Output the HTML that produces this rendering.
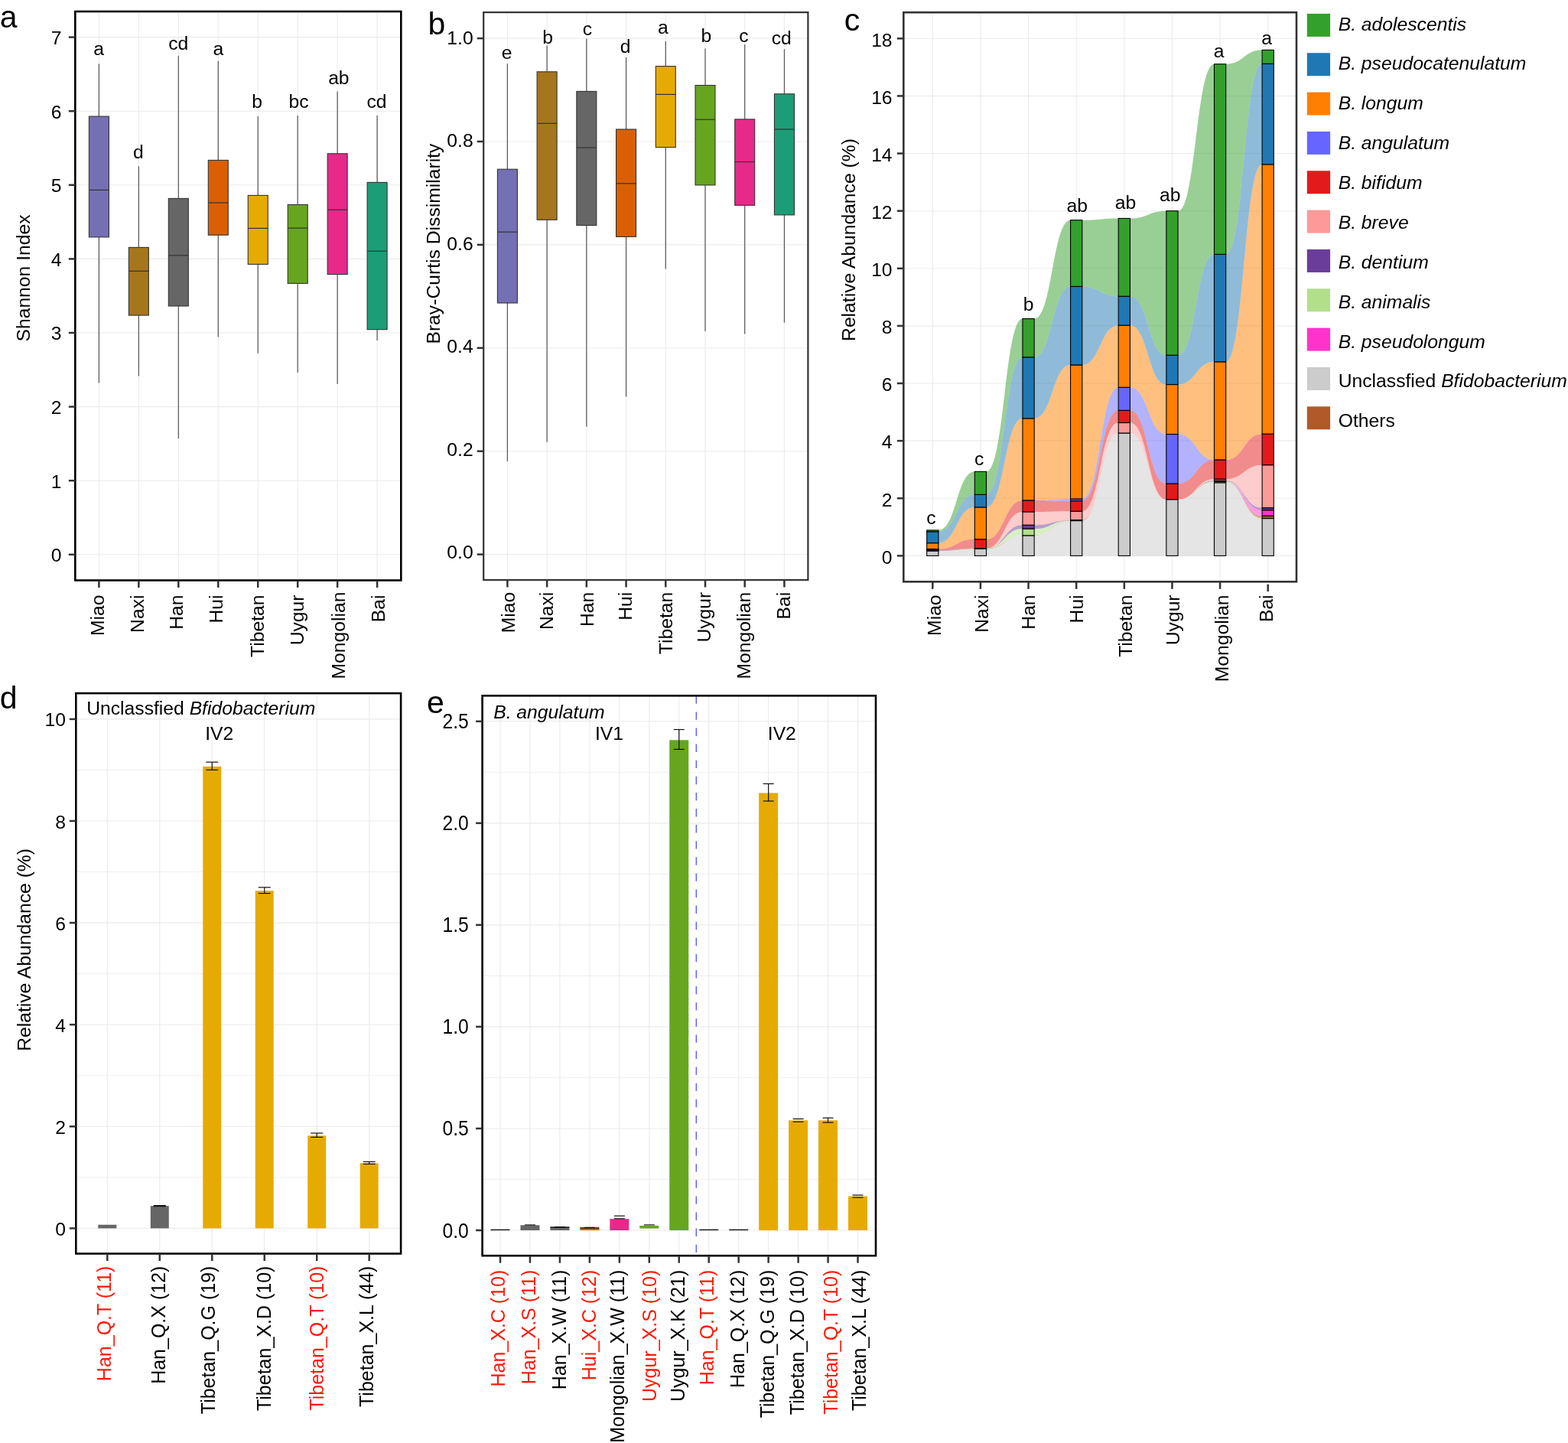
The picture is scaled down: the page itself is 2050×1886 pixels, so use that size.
<!DOCTYPE html>
<html><head><meta charset="utf-8"><title>Figure</title>
<style>html,body{margin:0;padding:0;background:#fff;}svg{display:block;}</style>
</head><body>
<svg width="2050" height="1886" viewBox="0 0 2050 1886" font-family="&quot;Liberation Sans&quot;, sans-serif">
<rect x="0" y="0" width="2050" height="1886" fill="#fff"/>
<line x1="98.3" y1="724.8" x2="524.3" y2="724.8" stroke="#EBEBEB" stroke-width="1.1"/>
<line x1="98.3" y1="628.2" x2="524.3" y2="628.2" stroke="#EBEBEB" stroke-width="1.1"/>
<line x1="98.3" y1="531.6" x2="524.3" y2="531.6" stroke="#EBEBEB" stroke-width="1.1"/>
<line x1="98.3" y1="435" x2="524.3" y2="435" stroke="#EBEBEB" stroke-width="1.1"/>
<line x1="98.3" y1="338.4" x2="524.3" y2="338.4" stroke="#EBEBEB" stroke-width="1.1"/>
<line x1="98.3" y1="241.8" x2="524.3" y2="241.8" stroke="#EBEBEB" stroke-width="1.1"/>
<line x1="98.3" y1="145.2" x2="524.3" y2="145.2" stroke="#EBEBEB" stroke-width="1.1"/>
<line x1="98.3" y1="48.6" x2="524.3" y2="48.6" stroke="#EBEBEB" stroke-width="1.1"/>
<line x1="129.4" y1="15" x2="129.4" y2="758.5" stroke="#EBEBEB" stroke-width="1.1"/>
<line x1="181.36" y1="15" x2="181.36" y2="758.5" stroke="#EBEBEB" stroke-width="1.1"/>
<line x1="233.32" y1="15" x2="233.32" y2="758.5" stroke="#EBEBEB" stroke-width="1.1"/>
<line x1="285.28" y1="15" x2="285.28" y2="758.5" stroke="#EBEBEB" stroke-width="1.1"/>
<line x1="337.24" y1="15" x2="337.24" y2="758.5" stroke="#EBEBEB" stroke-width="1.1"/>
<line x1="389.2" y1="15" x2="389.2" y2="758.5" stroke="#EBEBEB" stroke-width="1.1"/>
<line x1="441.16" y1="15" x2="441.16" y2="758.5" stroke="#EBEBEB" stroke-width="1.1"/>
<line x1="493.12" y1="15" x2="493.12" y2="758.5" stroke="#EBEBEB" stroke-width="1.1"/>
<line x1="129.4" y1="83.6" x2="129.4" y2="152.1" stroke="#555555" stroke-width="1.2"/>
<line x1="129.4" y1="309.9" x2="129.4" y2="500.6" stroke="#555555" stroke-width="1.2"/>
<rect x="116.4" y="152.1" width="26" height="157.8" fill="#7570B3" stroke="#333333" stroke-width="1.1"/>
<line x1="116.4" y1="248.4" x2="142.4" y2="248.4" stroke="#333333" stroke-width="1.2"/>
<text x="129.1" y="72" text-anchor="middle" font-size="24.7" fill="#000">a</text>
<line x1="181.36" y1="217.2" x2="181.36" y2="323.4" stroke="#555555" stroke-width="1.2"/>
<line x1="181.36" y1="412.1" x2="181.36" y2="491.5" stroke="#555555" stroke-width="1.2"/>
<rect x="168.36" y="323.4" width="26" height="88.7" fill="#A6761D" stroke="#333333" stroke-width="1.1"/>
<line x1="168.36" y1="354.3" x2="194.36" y2="354.3" stroke="#333333" stroke-width="1.2"/>
<text x="180.86" y="207" text-anchor="middle" font-size="24.7" fill="#000">d</text>
<line x1="233.32" y1="72.8" x2="233.32" y2="259.4" stroke="#555555" stroke-width="1.2"/>
<line x1="233.32" y1="400" x2="233.32" y2="573.2" stroke="#555555" stroke-width="1.2"/>
<rect x="220.32" y="259.4" width="26" height="140.6" fill="#666666" stroke="#333333" stroke-width="1.1"/>
<line x1="220.32" y1="333.8" x2="246.32" y2="333.8" stroke="#333333" stroke-width="1.2"/>
<text x="233.32" y="64.5" text-anchor="middle" font-size="24.7" fill="#000">cd</text>
<line x1="285.28" y1="79.8" x2="285.28" y2="209.4" stroke="#555555" stroke-width="1.2"/>
<line x1="285.28" y1="307.2" x2="285.28" y2="440.6" stroke="#555555" stroke-width="1.2"/>
<rect x="272.28" y="209.4" width="26" height="97.8" fill="#D95F02" stroke="#333333" stroke-width="1.1"/>
<line x1="272.28" y1="265" x2="298.28" y2="265" stroke="#333333" stroke-width="1.2"/>
<text x="285.28" y="72" text-anchor="middle" font-size="24.7" fill="#000">a</text>
<line x1="337.24" y1="151.9" x2="337.24" y2="255.4" stroke="#555555" stroke-width="1.2"/>
<line x1="337.24" y1="345.4" x2="337.24" y2="461.7" stroke="#555555" stroke-width="1.2"/>
<rect x="324.24" y="255.4" width="26" height="90" fill="#E6AB02" stroke="#333333" stroke-width="1.1"/>
<line x1="324.24" y1="298.4" x2="350.24" y2="298.4" stroke="#333333" stroke-width="1.2"/>
<text x="336.24" y="141" text-anchor="middle" font-size="24.7" fill="#000">b</text>
<line x1="389.2" y1="151" x2="389.2" y2="267.5" stroke="#555555" stroke-width="1.2"/>
<line x1="389.2" y1="370.4" x2="389.2" y2="487.1" stroke="#555555" stroke-width="1.2"/>
<rect x="376.2" y="267.5" width="26" height="102.9" fill="#66A61E" stroke="#333333" stroke-width="1.1"/>
<line x1="376.2" y1="298.1" x2="402.2" y2="298.1" stroke="#333333" stroke-width="1.2"/>
<text x="390.5" y="141" text-anchor="middle" font-size="24.7" fill="#000">bc</text>
<line x1="441.16" y1="119.6" x2="441.16" y2="200.8" stroke="#555555" stroke-width="1.2"/>
<line x1="441.16" y1="358.6" x2="441.16" y2="502" stroke="#555555" stroke-width="1.2"/>
<rect x="428.16" y="200.8" width="26" height="157.8" fill="#E7298A" stroke="#333333" stroke-width="1.1"/>
<line x1="428.16" y1="274.2" x2="454.16" y2="274.2" stroke="#333333" stroke-width="1.2"/>
<text x="442.86" y="109.7" text-anchor="middle" font-size="24.7" fill="#000">ab</text>
<line x1="493.12" y1="151" x2="493.12" y2="238.4" stroke="#555555" stroke-width="1.2"/>
<line x1="493.12" y1="430.7" x2="493.12" y2="444.9" stroke="#555555" stroke-width="1.2"/>
<rect x="480.12" y="238.4" width="26" height="192.3" fill="#1B9E77" stroke="#333333" stroke-width="1.1"/>
<line x1="480.12" y1="328.2" x2="506.12" y2="328.2" stroke="#333333" stroke-width="1.2"/>
<text x="492.52" y="141" text-anchor="middle" font-size="24.7" fill="#000">cd</text>
<rect x="98.3" y="15" width="426" height="743.5" fill="none" stroke="#000" stroke-width="2.6"/>
<line x1="89.8" y1="724.8" x2="98.3" y2="724.8" stroke="#333333" stroke-width="2.5"/>
<text x="80.5" y="734.1" text-anchor="end" font-size="24.7" fill="#000">0</text>
<line x1="89.8" y1="628.2" x2="98.3" y2="628.2" stroke="#333333" stroke-width="2.5"/>
<text x="80.5" y="637.5" text-anchor="end" font-size="24.7" fill="#000">1</text>
<line x1="89.8" y1="531.6" x2="98.3" y2="531.6" stroke="#333333" stroke-width="2.5"/>
<text x="80.5" y="540.9" text-anchor="end" font-size="24.7" fill="#000">2</text>
<line x1="89.8" y1="435" x2="98.3" y2="435" stroke="#333333" stroke-width="2.5"/>
<text x="80.5" y="444.3" text-anchor="end" font-size="24.7" fill="#000">3</text>
<line x1="89.8" y1="338.4" x2="98.3" y2="338.4" stroke="#333333" stroke-width="2.5"/>
<text x="80.5" y="347.7" text-anchor="end" font-size="24.7" fill="#000">4</text>
<line x1="89.8" y1="241.8" x2="98.3" y2="241.8" stroke="#333333" stroke-width="2.5"/>
<text x="80.5" y="251.1" text-anchor="end" font-size="24.7" fill="#000">5</text>
<line x1="89.8" y1="145.2" x2="98.3" y2="145.2" stroke="#333333" stroke-width="2.5"/>
<text x="80.5" y="154.5" text-anchor="end" font-size="24.7" fill="#000">6</text>
<line x1="89.8" y1="48.6" x2="98.3" y2="48.6" stroke="#333333" stroke-width="2.5"/>
<text x="80.5" y="57.9" text-anchor="end" font-size="24.7" fill="#000">7</text>
<line x1="129.4" y1="758.5" x2="129.4" y2="768" stroke="#333333" stroke-width="2.5"/>
<text transform="translate(135.9,777.5) rotate(-90)" text-anchor="end" font-size="24.7" fill="#000">Miao</text>
<line x1="181.36" y1="758.5" x2="181.36" y2="768" stroke="#333333" stroke-width="2.5"/>
<text transform="translate(187.66,777.5) rotate(-90)" text-anchor="end" font-size="24.7" fill="#000">Naxi</text>
<line x1="233.32" y1="758.5" x2="233.32" y2="768" stroke="#333333" stroke-width="2.5"/>
<text transform="translate(238.92,777.5) rotate(-90)" text-anchor="end" font-size="24.7" fill="#000">Han</text>
<line x1="285.28" y1="758.5" x2="285.28" y2="768" stroke="#333333" stroke-width="2.5"/>
<text transform="translate(290.88,777.5) rotate(-90)" text-anchor="end" font-size="24.7" fill="#000">Hui</text>
<line x1="337.24" y1="758.5" x2="337.24" y2="768" stroke="#333333" stroke-width="2.5"/>
<text transform="translate(344.84,777.5) rotate(-90)" text-anchor="end" font-size="24.7" fill="#000">Tibetan</text>
<line x1="389.2" y1="758.5" x2="389.2" y2="768" stroke="#333333" stroke-width="2.5"/>
<text transform="translate(396.9,777.5) rotate(-90)" text-anchor="end" font-size="24.7" fill="#000">Uygur</text>
<line x1="441.16" y1="758.5" x2="441.16" y2="768" stroke="#333333" stroke-width="2.5"/>
<text transform="translate(450.76,773.6) rotate(-90)" text-anchor="end" font-size="24.7" fill="#000">Mongolian</text>
<line x1="493.12" y1="758.5" x2="493.12" y2="768" stroke="#333333" stroke-width="2.5"/>
<text transform="translate(503.32,777.5) rotate(-90)" text-anchor="end" font-size="24.7" fill="#000">Bai</text>
<text x="-0.3" y="36.2" text-anchor="start" font-size="41" fill="#000">a</text>
<text transform="translate(39,363.5) rotate(-90)" text-anchor="middle" font-size="24.7" fill="#000">Shannon Index</text>
<line x1="632.2" y1="724.6" x2="1056.4" y2="724.6" stroke="#EBEBEB" stroke-width="1.1"/>
<line x1="632.2" y1="589.7" x2="1056.4" y2="589.7" stroke="#EBEBEB" stroke-width="1.1"/>
<line x1="632.2" y1="454.8" x2="1056.4" y2="454.8" stroke="#EBEBEB" stroke-width="1.1"/>
<line x1="632.2" y1="319.9" x2="1056.4" y2="319.9" stroke="#EBEBEB" stroke-width="1.1"/>
<line x1="632.2" y1="185" x2="1056.4" y2="185" stroke="#EBEBEB" stroke-width="1.1"/>
<line x1="632.2" y1="50.1" x2="1056.4" y2="50.1" stroke="#EBEBEB" stroke-width="1.1"/>
<line x1="663.4" y1="16.1" x2="663.4" y2="758" stroke="#EBEBEB" stroke-width="1.1"/>
<line x1="715.12" y1="16.1" x2="715.12" y2="758" stroke="#EBEBEB" stroke-width="1.1"/>
<line x1="766.84" y1="16.1" x2="766.84" y2="758" stroke="#EBEBEB" stroke-width="1.1"/>
<line x1="818.56" y1="16.1" x2="818.56" y2="758" stroke="#EBEBEB" stroke-width="1.1"/>
<line x1="870.28" y1="16.1" x2="870.28" y2="758" stroke="#EBEBEB" stroke-width="1.1"/>
<line x1="922" y1="16.1" x2="922" y2="758" stroke="#EBEBEB" stroke-width="1.1"/>
<line x1="973.72" y1="16.1" x2="973.72" y2="758" stroke="#EBEBEB" stroke-width="1.1"/>
<line x1="1025.44" y1="16.1" x2="1025.44" y2="758" stroke="#EBEBEB" stroke-width="1.1"/>
<line x1="663.4" y1="83.3" x2="663.4" y2="221.2" stroke="#555555" stroke-width="1.2"/>
<line x1="663.4" y1="396" x2="663.4" y2="602.9" stroke="#555555" stroke-width="1.2"/>
<rect x="650.4" y="221.2" width="26" height="174.8" fill="#7570B3" stroke="#333333" stroke-width="1.1"/>
<line x1="650.4" y1="303.2" x2="676.4" y2="303.2" stroke="#333333" stroke-width="1.2"/>
<text x="662.7" y="76.6" text-anchor="middle" font-size="24.7" fill="#000">e</text>
<line x1="715.12" y1="59.7" x2="715.12" y2="93.8" stroke="#555555" stroke-width="1.2"/>
<line x1="715.12" y1="287.3" x2="715.12" y2="577.8" stroke="#555555" stroke-width="1.2"/>
<rect x="702.12" y="93.8" width="26" height="193.5" fill="#A6761D" stroke="#333333" stroke-width="1.1"/>
<line x1="702.12" y1="161.3" x2="728.12" y2="161.3" stroke="#333333" stroke-width="1.2"/>
<text x="716.12" y="56.5" text-anchor="middle" font-size="24.7" fill="#000">b</text>
<line x1="766.84" y1="50.5" x2="766.84" y2="119.4" stroke="#555555" stroke-width="1.2"/>
<line x1="766.84" y1="294.6" x2="766.84" y2="557.5" stroke="#555555" stroke-width="1.2"/>
<rect x="753.84" y="119.4" width="26" height="175.2" fill="#666666" stroke="#333333" stroke-width="1.1"/>
<line x1="753.84" y1="193" x2="779.84" y2="193" stroke="#333333" stroke-width="1.2"/>
<text x="767.84" y="46.2" text-anchor="middle" font-size="24.7" fill="#000">c</text>
<line x1="818.56" y1="75" x2="818.56" y2="169" stroke="#555555" stroke-width="1.2"/>
<line x1="818.56" y1="309.4" x2="818.56" y2="518.5" stroke="#555555" stroke-width="1.2"/>
<rect x="805.56" y="169" width="26" height="140.4" fill="#D95F02" stroke="#333333" stroke-width="1.1"/>
<line x1="805.56" y1="239.8" x2="831.56" y2="239.8" stroke="#333333" stroke-width="1.2"/>
<text x="817.56" y="69.4" text-anchor="middle" font-size="24.7" fill="#000">d</text>
<line x1="870.28" y1="54" x2="870.28" y2="86.6" stroke="#555555" stroke-width="1.2"/>
<line x1="870.28" y1="192.5" x2="870.28" y2="351.6" stroke="#555555" stroke-width="1.2"/>
<rect x="857.28" y="86.6" width="26" height="105.9" fill="#E6AB02" stroke="#333333" stroke-width="1.1"/>
<line x1="857.28" y1="123.4" x2="883.28" y2="123.4" stroke="#333333" stroke-width="1.2"/>
<text x="866.88" y="43.5" text-anchor="middle" font-size="24.7" fill="#000">a</text>
<line x1="922" y1="63.4" x2="922" y2="111.5" stroke="#555555" stroke-width="1.2"/>
<line x1="922" y1="241.9" x2="922" y2="433" stroke="#555555" stroke-width="1.2"/>
<rect x="909" y="111.5" width="26" height="130.4" fill="#66A61E" stroke="#333333" stroke-width="1.1"/>
<line x1="909" y1="156.2" x2="935" y2="156.2" stroke="#333333" stroke-width="1.2"/>
<text x="923.3" y="54.6" text-anchor="middle" font-size="24.7" fill="#000">b</text>
<line x1="973.72" y1="58" x2="973.72" y2="155.9" stroke="#555555" stroke-width="1.2"/>
<line x1="973.72" y1="268.3" x2="973.72" y2="436.5" stroke="#555555" stroke-width="1.2"/>
<rect x="960.72" y="155.9" width="26" height="112.4" fill="#E7298A" stroke="#333333" stroke-width="1.1"/>
<line x1="960.72" y1="211.5" x2="986.72" y2="211.5" stroke="#333333" stroke-width="1.2"/>
<text x="972.42" y="55.1" text-anchor="middle" font-size="24.7" fill="#000">c</text>
<line x1="1025.44" y1="64.2" x2="1025.44" y2="122.8" stroke="#555555" stroke-width="1.2"/>
<line x1="1025.44" y1="280.9" x2="1025.44" y2="421.6" stroke="#555555" stroke-width="1.2"/>
<rect x="1012.44" y="122.8" width="26" height="158.1" fill="#1B9E77" stroke="#333333" stroke-width="1.1"/>
<line x1="1012.44" y1="169" x2="1038.44" y2="169" stroke="#333333" stroke-width="1.2"/>
<text x="1021.74" y="57.5" text-anchor="middle" font-size="24.7" fill="#000">cd</text>
<rect x="632.2" y="16.1" width="424.2" height="741.9" fill="none" stroke="#333333" stroke-width="2.2"/>
<line x1="623.7" y1="724.6" x2="632.2" y2="724.6" stroke="#333333" stroke-width="2.5"/>
<text x="618.7" y="730.1" text-anchor="end" font-size="24.7" fill="#000">0.0</text>
<line x1="623.7" y1="589.7" x2="632.2" y2="589.7" stroke="#333333" stroke-width="2.5"/>
<text x="618.7" y="595.62" text-anchor="end" font-size="24.7" fill="#000">0.2</text>
<line x1="623.7" y1="454.8" x2="632.2" y2="454.8" stroke="#333333" stroke-width="2.5"/>
<text x="618.7" y="461.14" text-anchor="end" font-size="24.7" fill="#000">0.4</text>
<line x1="623.7" y1="319.9" x2="632.2" y2="319.9" stroke="#333333" stroke-width="2.5"/>
<text x="618.7" y="326.66" text-anchor="end" font-size="24.7" fill="#000">0.6</text>
<line x1="623.7" y1="185" x2="632.2" y2="185" stroke="#333333" stroke-width="2.5"/>
<text x="618.7" y="192.18" text-anchor="end" font-size="24.7" fill="#000">0.8</text>
<line x1="623.7" y1="50.1" x2="632.2" y2="50.1" stroke="#333333" stroke-width="2.5"/>
<text x="618.7" y="57.7" text-anchor="end" font-size="24.7" fill="#000">1.0</text>
<line x1="663.4" y1="758" x2="663.4" y2="767.5" stroke="#333333" stroke-width="2.5"/>
<text transform="translate(673.1,773.7) rotate(-90)" text-anchor="end" font-size="24.7" fill="#000">Miao</text>
<line x1="715.12" y1="758" x2="715.12" y2="767.5" stroke="#333333" stroke-width="2.5"/>
<text transform="translate(723.12,773.7) rotate(-90)" text-anchor="end" font-size="24.7" fill="#000">Naxi</text>
<line x1="766.84" y1="758" x2="766.84" y2="767.5" stroke="#333333" stroke-width="2.5"/>
<text transform="translate(776.24,773.7) rotate(-90)" text-anchor="end" font-size="24.7" fill="#000">Han</text>
<line x1="818.56" y1="758" x2="818.56" y2="767.5" stroke="#333333" stroke-width="2.5"/>
<text transform="translate(825.76,773.7) rotate(-90)" text-anchor="end" font-size="24.7" fill="#000">Hui</text>
<line x1="870.28" y1="758" x2="870.28" y2="767.5" stroke="#333333" stroke-width="2.5"/>
<text transform="translate(878.88,773.7) rotate(-90)" text-anchor="end" font-size="24.7" fill="#000">Tibetan</text>
<line x1="922" y1="758" x2="922" y2="767.5" stroke="#333333" stroke-width="2.5"/>
<text transform="translate(929.2,773.7) rotate(-90)" text-anchor="end" font-size="24.7" fill="#000">Uygur</text>
<line x1="973.72" y1="758" x2="973.72" y2="767.5" stroke="#333333" stroke-width="2.5"/>
<text transform="translate(980.52,773.7) rotate(-90)" text-anchor="end" font-size="24.7" fill="#000">Mongolian</text>
<line x1="1025.44" y1="758" x2="1025.44" y2="767.5" stroke="#333333" stroke-width="2.5"/>
<text transform="translate(1032.84,773.7) rotate(-90)" text-anchor="end" font-size="24.7" fill="#000">Bai</text>
<text x="559.5" y="44.8" text-anchor="start" font-size="41" fill="#000">b</text>
<text transform="translate(574.6,318.6) rotate(-90)" text-anchor="middle" font-size="24.7" fill="#000">Bray-Curtis Dissimilarity</text>
<line x1="1181.3" y1="726.4" x2="1695" y2="726.4" stroke="#EBEBEB" stroke-width="1.1"/>
<line x1="1181.3" y1="651.28" x2="1695" y2="651.28" stroke="#EBEBEB" stroke-width="1.1"/>
<line x1="1181.3" y1="576.16" x2="1695" y2="576.16" stroke="#EBEBEB" stroke-width="1.1"/>
<line x1="1181.3" y1="501.04" x2="1695" y2="501.04" stroke="#EBEBEB" stroke-width="1.1"/>
<line x1="1181.3" y1="425.92" x2="1695" y2="425.92" stroke="#EBEBEB" stroke-width="1.1"/>
<line x1="1181.3" y1="350.8" x2="1695" y2="350.8" stroke="#EBEBEB" stroke-width="1.1"/>
<line x1="1181.3" y1="275.68" x2="1695" y2="275.68" stroke="#EBEBEB" stroke-width="1.1"/>
<line x1="1181.3" y1="200.56" x2="1695" y2="200.56" stroke="#EBEBEB" stroke-width="1.1"/>
<line x1="1181.3" y1="125.44" x2="1695" y2="125.44" stroke="#EBEBEB" stroke-width="1.1"/>
<line x1="1181.3" y1="50.32" x2="1695" y2="50.32" stroke="#EBEBEB" stroke-width="1.1"/>
<line x1="1219.3" y1="16.2" x2="1219.3" y2="760.3" stroke="#EBEBEB" stroke-width="1.1"/>
<line x1="1281.93" y1="16.2" x2="1281.93" y2="760.3" stroke="#EBEBEB" stroke-width="1.1"/>
<line x1="1344.56" y1="16.2" x2="1344.56" y2="760.3" stroke="#EBEBEB" stroke-width="1.1"/>
<line x1="1407.19" y1="16.2" x2="1407.19" y2="760.3" stroke="#EBEBEB" stroke-width="1.1"/>
<line x1="1469.82" y1="16.2" x2="1469.82" y2="760.3" stroke="#EBEBEB" stroke-width="1.1"/>
<line x1="1532.45" y1="16.2" x2="1532.45" y2="760.3" stroke="#EBEBEB" stroke-width="1.1"/>
<line x1="1595.08" y1="16.2" x2="1595.08" y2="760.3" stroke="#EBEBEB" stroke-width="1.1"/>
<line x1="1657.71" y1="16.2" x2="1657.71" y2="760.3" stroke="#EBEBEB" stroke-width="1.1"/>
<g fill-opacity="0.5">
<path d="M1226.9 720.01 C1250.62 720.01 1250.62 717.39 1274.33 717.39 L1274.33 726.4 C1250.62 726.4 1250.62 726.4 1226.9 726.4 Z" fill="#CCCCCC"/>
<path d="M1289.53 717.39 C1313.24 717.39 1313.24 699.88 1336.96 699.88 L1336.96 726.4 C1313.24 726.4 1313.24 726.4 1289.53 726.4 Z" fill="#CCCCCC"/>
<path d="M1352.16 699.88 C1375.88 699.88 1375.88 680.58 1399.59 680.58 L1399.59 726.4 C1375.88 726.4 1375.88 726.4 1352.16 726.4 Z" fill="#CCCCCC"/>
<path d="M1414.79 680.58 C1438.51 680.58 1438.51 566.02 1462.22 566.02 L1462.22 726.4 C1438.51 726.4 1438.51 726.4 1414.79 726.4 Z" fill="#CCCCCC"/>
<path d="M1477.42 566.02 C1501.13 566.02 1501.13 652.78 1524.85 652.78 L1524.85 726.4 C1501.13 726.4 1501.13 726.4 1477.42 726.4 Z" fill="#CCCCCC"/>
<path d="M1540.05 652.78 C1563.76 652.78 1563.76 630.81 1587.48 630.81 L1587.48 726.4 C1563.76 726.4 1563.76 726.4 1540.05 726.4 Z" fill="#CCCCCC"/>
<path d="M1602.68 630.81 C1626.39 630.81 1626.39 677.57 1650.11 677.57 L1650.11 726.4 C1626.39 726.4 1626.39 726.4 1602.68 726.4 Z" fill="#CCCCCC"/>
<path d="M1226.9 720.01 C1250.62 720.01 1250.62 716.63 1274.33 716.63 L1274.33 717.39 C1250.62 717.39 1250.62 720.01 1226.9 720.01 Z" fill="#B15928"/>
<path d="M1289.53 716.63 C1313.24 716.63 1313.24 699.88 1336.96 699.88 L1336.96 699.88 C1313.24 699.88 1313.24 717.39 1289.53 717.39 Z" fill="#B15928"/>
<path d="M1352.16 699.88 C1375.88 699.88 1375.88 679.64 1399.59 679.64 L1399.59 680.58 C1375.88 680.58 1375.88 699.88 1352.16 699.88 Z" fill="#B15928"/>
<path d="M1414.79 679.64 C1438.51 679.64 1438.51 566.02 1462.22 566.02 L1462.22 566.02 C1438.51 566.02 1438.51 680.58 1414.79 680.58 Z" fill="#B15928"/>
<path d="M1602.68 630.81 C1626.39 630.81 1626.39 674.19 1650.11 674.19 L1650.11 677.57 C1626.39 677.57 1626.39 630.81 1602.68 630.81 Z" fill="#B15928"/>
<path d="M1602.68 630.81 C1626.39 630.81 1626.39 666.68 1650.11 666.68 L1650.11 674.19 C1626.39 674.19 1626.39 630.81 1602.68 630.81 Z" fill="#FF33CC"/>
<path d="M1289.53 716.63 C1313.24 716.63 1313.24 691.09 1336.96 691.09 L1336.96 699.88 C1313.24 699.88 1313.24 716.63 1289.53 716.63 Z" fill="#B2DF8A"/>
<path d="M1352.16 691.09 C1375.88 691.09 1375.88 679.64 1399.59 679.64 L1399.59 679.64 C1375.88 679.64 1375.88 699.88 1352.16 699.88 Z" fill="#B2DF8A"/>
<path d="M1540.05 652.78 C1563.76 652.78 1563.76 629.31 1587.48 629.31 L1587.48 630.81 C1563.76 630.81 1563.76 652.78 1540.05 652.78 Z" fill="#B2DF8A"/>
<path d="M1602.68 629.31 C1626.39 629.31 1626.39 666.68 1650.11 666.68 L1650.11 666.68 C1626.39 666.68 1626.39 630.81 1602.68 630.81 Z" fill="#B2DF8A"/>
<path d="M1226.9 718.7 C1250.62 718.7 1250.62 716.63 1274.33 716.63 L1274.33 716.63 C1250.62 716.63 1250.62 720.01 1226.9 720.01 Z" fill="#6A3D9A"/>
<path d="M1289.53 716.63 C1313.24 716.63 1313.24 686.21 1336.96 686.21 L1336.96 691.09 C1313.24 691.09 1313.24 716.63 1289.53 716.63 Z" fill="#6A3D9A"/>
<path d="M1352.16 686.21 C1375.88 686.21 1375.88 679.64 1399.59 679.64 L1399.59 679.64 C1375.88 679.64 1375.88 691.09 1352.16 691.09 Z" fill="#6A3D9A"/>
<path d="M1540.05 652.78 C1563.76 652.78 1563.76 628.18 1587.48 628.18 L1587.48 629.31 C1563.76 629.31 1563.76 652.78 1540.05 652.78 Z" fill="#6A3D9A"/>
<path d="M1602.68 628.18 C1626.39 628.18 1626.39 663.67 1650.11 663.67 L1650.11 666.68 C1626.39 666.68 1626.39 629.31 1602.68 629.31 Z" fill="#6A3D9A"/>
<path d="M1289.53 716.63 C1313.24 716.63 1313.24 668.93 1336.96 668.93 L1336.96 686.21 C1313.24 686.21 1313.24 716.63 1289.53 716.63 Z" fill="#FB9A99"/>
<path d="M1352.16 668.93 C1375.88 668.93 1375.88 668.18 1399.59 668.18 L1399.59 679.64 C1375.88 679.64 1375.88 686.21 1352.16 686.21 Z" fill="#FB9A99"/>
<path d="M1414.79 668.18 C1438.51 668.18 1438.51 552.5 1462.22 552.5 L1462.22 566.02 C1438.51 566.02 1438.51 679.64 1414.79 679.64 Z" fill="#FB9A99"/>
<path d="M1477.42 552.5 C1501.13 552.5 1501.13 652.78 1524.85 652.78 L1524.85 652.78 C1501.13 652.78 1501.13 566.02 1477.42 566.02 Z" fill="#FB9A99"/>
<path d="M1540.05 652.78 C1563.76 652.78 1563.76 626.11 1587.48 626.11 L1587.48 628.18 C1563.76 628.18 1563.76 652.78 1540.05 652.78 Z" fill="#FB9A99"/>
<path d="M1602.68 626.11 C1626.39 626.11 1626.39 607.71 1650.11 607.71 L1650.11 663.67 C1626.39 663.67 1626.39 628.18 1602.68 628.18 Z" fill="#FB9A99"/>
<path d="M1226.9 717.57 C1250.62 717.57 1250.62 704.8 1274.33 704.8 L1274.33 716.63 C1250.62 716.63 1250.62 718.7 1226.9 718.7 Z" fill="#E31A1C"/>
<path d="M1289.53 704.8 C1313.24 704.8 1313.24 653.91 1336.96 653.91 L1336.96 668.93 C1313.24 668.93 1313.24 716.63 1289.53 716.63 Z" fill="#E31A1C"/>
<path d="M1352.16 653.91 C1375.88 653.91 1375.88 654.66 1399.59 654.66 L1399.59 668.18 C1375.88 668.18 1375.88 668.93 1352.16 668.93 Z" fill="#E31A1C"/>
<path d="M1414.79 654.66 C1438.51 654.66 1438.51 536.35 1462.22 536.35 L1462.22 552.5 C1438.51 552.5 1438.51 668.18 1414.79 668.18 Z" fill="#E31A1C"/>
<path d="M1477.42 536.35 C1501.13 536.35 1501.13 632.12 1524.85 632.12 L1524.85 652.78 C1501.13 652.78 1501.13 552.5 1477.42 552.5 Z" fill="#E31A1C"/>
<path d="M1540.05 632.12 C1563.76 632.12 1563.76 600.95 1587.48 600.95 L1587.48 626.11 C1563.76 626.11 1563.76 652.78 1540.05 652.78 Z" fill="#E31A1C"/>
<path d="M1602.68 600.95 C1626.39 600.95 1626.39 567.15 1650.11 567.15 L1650.11 607.71 C1626.39 607.71 1626.39 626.11 1602.68 626.11 Z" fill="#E31A1C"/>
<path d="M1352.16 653.91 C1375.88 653.91 1375.88 652.03 1399.59 652.03 L1399.59 654.66 C1375.88 654.66 1375.88 653.91 1352.16 653.91 Z" fill="#6666FF"/>
<path d="M1414.79 652.03 C1438.51 652.03 1438.51 506.3 1462.22 506.3 L1462.22 536.35 C1438.51 536.35 1438.51 654.66 1414.79 654.66 Z" fill="#6666FF"/>
<path d="M1477.42 506.3 C1501.13 506.3 1501.13 567.52 1524.85 567.52 L1524.85 632.12 C1501.13 632.12 1501.13 536.35 1477.42 536.35 Z" fill="#6666FF"/>
<path d="M1540.05 567.52 C1563.76 567.52 1563.76 600.95 1587.48 600.95 L1587.48 600.95 C1563.76 600.95 1563.76 632.12 1540.05 632.12 Z" fill="#6666FF"/>
<path d="M1226.9 709.69 C1250.62 709.69 1250.62 662.92 1274.33 662.92 L1274.33 704.8 C1250.62 704.8 1250.62 717.57 1226.9 717.57 Z" fill="#FF7F00"/>
<path d="M1289.53 662.92 C1313.24 662.92 1313.24 546.86 1336.96 546.86 L1336.96 653.91 C1313.24 653.91 1313.24 704.8 1289.53 704.8 Z" fill="#FF7F00"/>
<path d="M1352.16 546.86 C1375.88 546.86 1375.88 477 1399.59 477 L1399.59 652.03 C1375.88 652.03 1375.88 653.91 1352.16 653.91 Z" fill="#FF7F00"/>
<path d="M1414.79 477 C1438.51 477 1438.51 425.17 1462.22 425.17 L1462.22 506.3 C1438.51 506.3 1438.51 652.03 1414.79 652.03 Z" fill="#FF7F00"/>
<path d="M1477.42 425.17 C1501.13 425.17 1501.13 502.54 1524.85 502.54 L1524.85 567.52 C1501.13 567.52 1501.13 506.3 1477.42 506.3 Z" fill="#FF7F00"/>
<path d="M1540.05 502.54 C1563.76 502.54 1563.76 472.87 1587.48 472.87 L1587.48 600.95 C1563.76 600.95 1563.76 567.52 1540.05 567.52 Z" fill="#FF7F00"/>
<path d="M1602.68 472.87 C1626.39 472.87 1626.39 214.83 1650.11 214.83 L1650.11 567.15 C1626.39 567.15 1626.39 600.95 1602.68 600.95 Z" fill="#FF7F00"/>
<path d="M1226.9 694.85 C1250.62 694.85 1250.62 646.4 1274.33 646.4 L1274.33 662.92 C1250.62 662.92 1250.62 709.69 1226.9 709.69 Z" fill="#1F78B4"/>
<path d="M1289.53 646.4 C1313.24 646.4 1313.24 466.86 1336.96 466.86 L1336.96 546.86 C1313.24 546.86 1313.24 662.92 1289.53 662.92 Z" fill="#1F78B4"/>
<path d="M1352.16 466.86 C1375.88 466.86 1375.88 374.46 1399.59 374.46 L1399.59 477 C1375.88 477 1375.88 546.86 1352.16 546.86 Z" fill="#1F78B4"/>
<path d="M1414.79 374.46 C1438.51 374.46 1438.51 387.23 1462.22 387.23 L1462.22 425.17 C1438.51 425.17 1438.51 477 1414.79 477 Z" fill="#1F78B4"/>
<path d="M1477.42 387.23 C1501.13 387.23 1501.13 464.23 1524.85 464.23 L1524.85 502.54 C1501.13 502.54 1501.13 425.17 1477.42 425.17 Z" fill="#1F78B4"/>
<path d="M1540.05 464.23 C1563.76 464.23 1563.76 332.4 1587.48 332.4 L1587.48 472.87 C1563.76 472.87 1563.76 502.54 1540.05 502.54 Z" fill="#1F78B4"/>
<path d="M1602.68 332.4 C1626.39 332.4 1626.39 83.37 1650.11 83.37 L1650.11 214.83 C1626.39 214.83 1626.39 472.87 1602.68 472.87 Z" fill="#1F78B4"/>
<path d="M1226.9 692.97 C1250.62 692.97 1250.62 616.35 1274.33 616.35 L1274.33 646.4 C1250.62 646.4 1250.62 694.85 1226.9 694.85 Z" fill="#33A02C"/>
<path d="M1289.53 616.35 C1313.24 616.35 1313.24 416.53 1336.96 416.53 L1336.96 466.86 C1313.24 466.86 1313.24 646.4 1289.53 646.4 Z" fill="#33A02C"/>
<path d="M1352.16 416.53 C1375.88 416.53 1375.88 287.7 1399.59 287.7 L1399.59 374.46 C1375.88 374.46 1375.88 466.86 1352.16 466.86 Z" fill="#33A02C"/>
<path d="M1414.79 287.7 C1438.51 287.7 1438.51 285.45 1462.22 285.45 L1462.22 387.23 C1438.51 387.23 1438.51 374.46 1414.79 374.46 Z" fill="#33A02C"/>
<path d="M1477.42 285.45 C1501.13 285.45 1501.13 275.68 1524.85 275.68 L1524.85 464.23 C1501.13 464.23 1501.13 387.23 1477.42 387.23 Z" fill="#33A02C"/>
<path d="M1540.05 275.68 C1563.76 275.68 1563.76 83.75 1587.48 83.75 L1587.48 332.4 C1563.76 332.4 1563.76 464.23 1540.05 464.23 Z" fill="#33A02C"/>
<path d="M1602.68 83.75 C1626.39 83.75 1626.39 65.34 1650.11 65.34 L1650.11 83.37 C1626.39 83.37 1626.39 332.4 1602.68 332.4 Z" fill="#33A02C"/>
</g>
<rect x="1211.7" y="720.01" width="15.2" height="6.39" fill="#CCCCCC" stroke="#000" stroke-width="1.1"/>
<rect x="1211.7" y="718.7" width="15.2" height="1.31" fill="#6A3D9A" stroke="#000" stroke-width="1.1"/>
<rect x="1211.7" y="717.57" width="15.2" height="1.13" fill="#E31A1C" stroke="#000" stroke-width="1.1"/>
<rect x="1211.7" y="709.69" width="15.2" height="7.89" fill="#FF7F00" stroke="#000" stroke-width="1.1"/>
<rect x="1211.7" y="694.85" width="15.2" height="14.84" fill="#1F78B4" stroke="#000" stroke-width="1.1"/>
<rect x="1211.7" y="692.97" width="15.2" height="1.88" fill="#33A02C" stroke="#000" stroke-width="1.1"/>
<text x="1217.3" y="684.6" text-anchor="middle" font-size="24.7" fill="#000">c</text>
<rect x="1274.33" y="717.39" width="15.2" height="9.01" fill="#CCCCCC" stroke="#000" stroke-width="1.1"/>
<rect x="1274.33" y="716.63" width="15.2" height="0.75" fill="#B15928" stroke="#000" stroke-width="1.1"/>
<rect x="1274.33" y="704.8" width="15.2" height="11.83" fill="#E31A1C" stroke="#000" stroke-width="1.1"/>
<rect x="1274.33" y="662.92" width="15.2" height="41.88" fill="#FF7F00" stroke="#000" stroke-width="1.1"/>
<rect x="1274.33" y="646.4" width="15.2" height="16.53" fill="#1F78B4" stroke="#000" stroke-width="1.1"/>
<rect x="1274.33" y="616.35" width="15.2" height="30.05" fill="#33A02C" stroke="#000" stroke-width="1.1"/>
<text x="1280.13" y="607.5" text-anchor="middle" font-size="24.7" fill="#000">c</text>
<rect x="1336.96" y="699.88" width="15.2" height="26.52" fill="#CCCCCC" stroke="#000" stroke-width="1.1"/>
<rect x="1336.96" y="691.09" width="15.2" height="8.79" fill="#B2DF8A" stroke="#000" stroke-width="1.1"/>
<rect x="1336.96" y="686.21" width="15.2" height="4.88" fill="#6A3D9A" stroke="#000" stroke-width="1.1"/>
<rect x="1336.96" y="668.93" width="15.2" height="17.28" fill="#FB9A99" stroke="#000" stroke-width="1.1"/>
<rect x="1336.96" y="653.91" width="15.2" height="15.02" fill="#E31A1C" stroke="#000" stroke-width="1.1"/>
<rect x="1336.96" y="546.86" width="15.2" height="107.05" fill="#FF7F00" stroke="#000" stroke-width="1.1"/>
<rect x="1336.96" y="466.86" width="15.2" height="80" fill="#1F78B4" stroke="#000" stroke-width="1.1"/>
<rect x="1336.96" y="416.53" width="15.2" height="50.33" fill="#33A02C" stroke="#000" stroke-width="1.1"/>
<text x="1344.56" y="406" text-anchor="middle" font-size="24.7" fill="#000">b</text>
<rect x="1399.59" y="680.58" width="15.2" height="45.82" fill="#CCCCCC" stroke="#000" stroke-width="1.1"/>
<rect x="1399.59" y="679.64" width="15.2" height="0.94" fill="#B15928" stroke="#000" stroke-width="1.1"/>
<rect x="1399.59" y="668.18" width="15.2" height="11.46" fill="#FB9A99" stroke="#000" stroke-width="1.1"/>
<rect x="1399.59" y="654.66" width="15.2" height="13.52" fill="#E31A1C" stroke="#000" stroke-width="1.1"/>
<rect x="1399.59" y="652.03" width="15.2" height="2.63" fill="#6666FF" stroke="#000" stroke-width="1.1"/>
<rect x="1399.59" y="477" width="15.2" height="175.03" fill="#FF7F00" stroke="#000" stroke-width="1.1"/>
<rect x="1399.59" y="374.46" width="15.2" height="102.54" fill="#1F78B4" stroke="#000" stroke-width="1.1"/>
<rect x="1399.59" y="287.7" width="15.2" height="86.76" fill="#33A02C" stroke="#000" stroke-width="1.1"/>
<text x="1408.19" y="276.5" text-anchor="middle" font-size="24.7" fill="#000">ab</text>
<rect x="1462.22" y="566.02" width="15.2" height="160.38" fill="#CCCCCC" stroke="#000" stroke-width="1.1"/>
<rect x="1462.22" y="552.5" width="15.2" height="13.52" fill="#FB9A99" stroke="#000" stroke-width="1.1"/>
<rect x="1462.22" y="536.35" width="15.2" height="16.15" fill="#E31A1C" stroke="#000" stroke-width="1.1"/>
<rect x="1462.22" y="506.3" width="15.2" height="30.05" fill="#6666FF" stroke="#000" stroke-width="1.1"/>
<rect x="1462.22" y="425.17" width="15.2" height="81.13" fill="#FF7F00" stroke="#000" stroke-width="1.1"/>
<rect x="1462.22" y="387.23" width="15.2" height="37.94" fill="#1F78B4" stroke="#000" stroke-width="1.1"/>
<rect x="1462.22" y="285.45" width="15.2" height="101.79" fill="#33A02C" stroke="#000" stroke-width="1.1"/>
<text x="1471.52" y="273.1" text-anchor="middle" font-size="24.7" fill="#000">ab</text>
<rect x="1524.85" y="652.78" width="15.2" height="73.62" fill="#CCCCCC" stroke="#000" stroke-width="1.1"/>
<rect x="1524.85" y="632.12" width="15.2" height="20.66" fill="#E31A1C" stroke="#000" stroke-width="1.1"/>
<rect x="1524.85" y="567.52" width="15.2" height="64.6" fill="#6666FF" stroke="#000" stroke-width="1.1"/>
<rect x="1524.85" y="502.54" width="15.2" height="64.98" fill="#FF7F00" stroke="#000" stroke-width="1.1"/>
<rect x="1524.85" y="464.23" width="15.2" height="38.31" fill="#1F78B4" stroke="#000" stroke-width="1.1"/>
<rect x="1524.85" y="275.68" width="15.2" height="188.55" fill="#33A02C" stroke="#000" stroke-width="1.1"/>
<text x="1529.85" y="262.8" text-anchor="middle" font-size="24.7" fill="#000">ab</text>
<rect x="1587.48" y="630.81" width="15.2" height="95.59" fill="#CCCCCC" stroke="#000" stroke-width="1.1"/>
<rect x="1587.48" y="629.31" width="15.2" height="1.5" fill="#B2DF8A" stroke="#000" stroke-width="1.1"/>
<rect x="1587.48" y="628.18" width="15.2" height="1.13" fill="#6A3D9A" stroke="#000" stroke-width="1.1"/>
<rect x="1587.48" y="626.11" width="15.2" height="2.07" fill="#FB9A99" stroke="#000" stroke-width="1.1"/>
<rect x="1587.48" y="600.95" width="15.2" height="25.17" fill="#E31A1C" stroke="#000" stroke-width="1.1"/>
<rect x="1587.48" y="472.87" width="15.2" height="128.08" fill="#FF7F00" stroke="#000" stroke-width="1.1"/>
<rect x="1587.48" y="332.4" width="15.2" height="140.47" fill="#1F78B4" stroke="#000" stroke-width="1.1"/>
<rect x="1587.48" y="83.75" width="15.2" height="248.65" fill="#33A02C" stroke="#000" stroke-width="1.1"/>
<text x="1593.58" y="75.4" text-anchor="middle" font-size="24.7" fill="#000">a</text>
<rect x="1650.11" y="677.57" width="15.2" height="48.83" fill="#CCCCCC" stroke="#000" stroke-width="1.1"/>
<rect x="1650.11" y="674.19" width="15.2" height="3.38" fill="#B15928" stroke="#000" stroke-width="1.1"/>
<rect x="1650.11" y="666.68" width="15.2" height="7.51" fill="#FF33CC" stroke="#000" stroke-width="1.1"/>
<rect x="1650.11" y="663.67" width="15.2" height="3" fill="#6A3D9A" stroke="#000" stroke-width="1.1"/>
<rect x="1650.11" y="607.71" width="15.2" height="55.96" fill="#FB9A99" stroke="#000" stroke-width="1.1"/>
<rect x="1650.11" y="567.15" width="15.2" height="40.56" fill="#E31A1C" stroke="#000" stroke-width="1.1"/>
<rect x="1650.11" y="214.83" width="15.2" height="352.31" fill="#FF7F00" stroke="#000" stroke-width="1.1"/>
<rect x="1650.11" y="83.37" width="15.2" height="131.46" fill="#1F78B4" stroke="#000" stroke-width="1.1"/>
<rect x="1650.11" y="65.34" width="15.2" height="18.03" fill="#33A02C" stroke="#000" stroke-width="1.1"/>
<text x="1656.21" y="58.4" text-anchor="middle" font-size="24.7" fill="#000">a</text>
<rect x="1181.3" y="16.2" width="513.7" height="744.1" fill="none" stroke="#333333" stroke-width="2.6"/>
<line x1="1172.8" y1="726.4" x2="1181.3" y2="726.4" stroke="#333333" stroke-width="2.5"/>
<text x="1166.6" y="736.7" text-anchor="end" font-size="24.7" fill="#000">0</text>
<line x1="1172.8" y1="651.28" x2="1181.3" y2="651.28" stroke="#333333" stroke-width="2.5"/>
<text x="1166.6" y="661.58" text-anchor="end" font-size="24.7" fill="#000">2</text>
<line x1="1172.8" y1="576.16" x2="1181.3" y2="576.16" stroke="#333333" stroke-width="2.5"/>
<text x="1166.6" y="586.46" text-anchor="end" font-size="24.7" fill="#000">4</text>
<line x1="1172.8" y1="501.04" x2="1181.3" y2="501.04" stroke="#333333" stroke-width="2.5"/>
<text x="1166.6" y="511.34" text-anchor="end" font-size="24.7" fill="#000">6</text>
<line x1="1172.8" y1="425.92" x2="1181.3" y2="425.92" stroke="#333333" stroke-width="2.5"/>
<text x="1166.6" y="436.22" text-anchor="end" font-size="24.7" fill="#000">8</text>
<line x1="1172.8" y1="350.8" x2="1181.3" y2="350.8" stroke="#333333" stroke-width="2.5"/>
<text x="1166.6" y="361.1" text-anchor="end" font-size="24.7" fill="#000">10</text>
<line x1="1172.8" y1="275.68" x2="1181.3" y2="275.68" stroke="#333333" stroke-width="2.5"/>
<text x="1166.6" y="285.98" text-anchor="end" font-size="24.7" fill="#000">12</text>
<line x1="1172.8" y1="200.56" x2="1181.3" y2="200.56" stroke="#333333" stroke-width="2.5"/>
<text x="1166.6" y="210.86" text-anchor="end" font-size="24.7" fill="#000">14</text>
<line x1="1172.8" y1="125.44" x2="1181.3" y2="125.44" stroke="#333333" stroke-width="2.5"/>
<text x="1166.6" y="135.74" text-anchor="end" font-size="24.7" fill="#000">16</text>
<line x1="1172.8" y1="50.32" x2="1181.3" y2="50.32" stroke="#333333" stroke-width="2.5"/>
<text x="1166.6" y="60.62" text-anchor="end" font-size="24.7" fill="#000">18</text>
<line x1="1219.3" y1="760.3" x2="1219.3" y2="769.8" stroke="#333333" stroke-width="2.5"/>
<text transform="translate(1229.9,777.4) rotate(-90)" text-anchor="end" font-size="24.7" fill="#000">Miao</text>
<line x1="1281.93" y1="760.3" x2="1281.93" y2="769.8" stroke="#333333" stroke-width="2.5"/>
<text transform="translate(1292.03,777.4) rotate(-90)" text-anchor="end" font-size="24.7" fill="#000">Naxi</text>
<line x1="1344.56" y1="760.3" x2="1344.56" y2="769.8" stroke="#333333" stroke-width="2.5"/>
<text transform="translate(1353.26,777.4) rotate(-90)" text-anchor="end" font-size="24.7" fill="#000">Han</text>
<line x1="1407.19" y1="760.3" x2="1407.19" y2="769.8" stroke="#333333" stroke-width="2.5"/>
<text transform="translate(1415.99,777.4) rotate(-90)" text-anchor="end" font-size="24.7" fill="#000">Hui</text>
<line x1="1469.82" y1="760.3" x2="1469.82" y2="769.8" stroke="#333333" stroke-width="2.5"/>
<text transform="translate(1480.22,777.4) rotate(-90)" text-anchor="end" font-size="24.7" fill="#000">Tibetan</text>
<line x1="1532.45" y1="760.3" x2="1532.45" y2="769.8" stroke="#333333" stroke-width="2.5"/>
<text transform="translate(1542.15,777.4) rotate(-90)" text-anchor="end" font-size="24.7" fill="#000">Uygur</text>
<line x1="1595.08" y1="760.3" x2="1595.08" y2="769.8" stroke="#333333" stroke-width="2.5"/>
<text transform="translate(1605.68,777.4) rotate(-90)" text-anchor="end" font-size="24.7" fill="#000">Mongolian</text>
<line x1="1657.71" y1="763.7" x2="1657.71" y2="773.1" stroke="#333333" stroke-width="2.5"/>
<text transform="translate(1664.21,777.4) rotate(-90)" text-anchor="end" font-size="24.7" fill="#000">Bai</text>
<text x="1103.7" y="40.2" text-anchor="start" font-size="41" fill="#000">c</text>
<text transform="translate(1117.7,313.5) rotate(-90)" text-anchor="middle" font-size="24.7" fill="#000">Relative Abundance (%)</text>
<rect x="1708.8" y="17.9" width="30.3" height="30" fill="#33A02C"/>
<text x="1749.7" y="39.5" text-anchor="start" font-size="24.7" fill="#000"><tspan font-style="italic">B. adolescentis</tspan></text>
<rect x="1708.8" y="69.24" width="30.3" height="30" fill="#1F78B4"/>
<text x="1749.7" y="91.38" text-anchor="start" font-size="24.7" fill="#000"><tspan font-style="italic">B. pseudocatenulatum</tspan></text>
<rect x="1708.8" y="120.58" width="30.3" height="30" fill="#FF7F00"/>
<text x="1749.7" y="143.26" text-anchor="start" font-size="24.7" fill="#000"><tspan font-style="italic">B. longum</tspan></text>
<rect x="1708.8" y="171.92" width="30.3" height="30" fill="#6666FF"/>
<text x="1749.7" y="195.14" text-anchor="start" font-size="24.7" fill="#000"><tspan font-style="italic">B. angulatum</tspan></text>
<rect x="1708.8" y="223.26" width="30.3" height="30" fill="#E31A1C"/>
<text x="1749.7" y="247.02" text-anchor="start" font-size="24.7" fill="#000"><tspan font-style="italic">B. bifidum</tspan></text>
<rect x="1708.8" y="274.6" width="30.3" height="30" fill="#FB9A99"/>
<text x="1749.7" y="298.9" text-anchor="start" font-size="24.7" fill="#000"><tspan font-style="italic">B. breve</tspan></text>
<rect x="1708.8" y="325.94" width="30.3" height="30" fill="#6A3D9A"/>
<text x="1749.7" y="350.78" text-anchor="start" font-size="24.7" fill="#000"><tspan font-style="italic">B. dentium</tspan></text>
<rect x="1708.8" y="377.28" width="30.3" height="30" fill="#B2DF8A"/>
<text x="1749.7" y="402.66" text-anchor="start" font-size="24.7" fill="#000"><tspan font-style="italic">B. animalis</tspan></text>
<rect x="1708.8" y="428.62" width="30.3" height="30" fill="#FF33CC"/>
<text x="1749.7" y="454.54" text-anchor="start" font-size="24.7" fill="#000"><tspan font-style="italic">B. pseudolongum</tspan></text>
<rect x="1708.8" y="479.96" width="30.3" height="30" fill="#CCCCCC"/>
<text x="1749.7" y="506.42" text-anchor="start" font-size="24.7" fill="#000">Unclassfied <tspan font-style="italic">Bfidobacterium</tspan></text>
<rect x="1708.8" y="531.3" width="30.3" height="30" fill="#B15928"/>
<text x="1749.7" y="558.3" text-anchor="start" font-size="24.7" fill="#000">Others</text>
<line x1="99.3" y1="1605.4" x2="524.1" y2="1605.4" stroke="#EBEBEB" stroke-width="1.1"/>
<line x1="99.3" y1="1538.85" x2="524.1" y2="1538.85" stroke="#EBEBEB" stroke-width="0.8"/>
<line x1="99.3" y1="1472.3" x2="524.1" y2="1472.3" stroke="#EBEBEB" stroke-width="1.1"/>
<line x1="99.3" y1="1405.75" x2="524.1" y2="1405.75" stroke="#EBEBEB" stroke-width="0.8"/>
<line x1="99.3" y1="1339.2" x2="524.1" y2="1339.2" stroke="#EBEBEB" stroke-width="1.1"/>
<line x1="99.3" y1="1272.65" x2="524.1" y2="1272.65" stroke="#EBEBEB" stroke-width="0.8"/>
<line x1="99.3" y1="1206.1" x2="524.1" y2="1206.1" stroke="#EBEBEB" stroke-width="1.1"/>
<line x1="99.3" y1="1139.55" x2="524.1" y2="1139.55" stroke="#EBEBEB" stroke-width="0.8"/>
<line x1="99.3" y1="1073" x2="524.1" y2="1073" stroke="#EBEBEB" stroke-width="1.1"/>
<line x1="99.3" y1="1006.45" x2="524.1" y2="1006.45" stroke="#EBEBEB" stroke-width="0.8"/>
<line x1="99.3" y1="939.9" x2="524.1" y2="939.9" stroke="#EBEBEB" stroke-width="1.1"/>
<line x1="140.3" y1="906.1" x2="140.3" y2="1638.5" stroke="#EBEBEB" stroke-width="1.1"/>
<line x1="208.78" y1="906.1" x2="208.78" y2="1638.5" stroke="#EBEBEB" stroke-width="1.1"/>
<line x1="277.26" y1="906.1" x2="277.26" y2="1638.5" stroke="#EBEBEB" stroke-width="1.1"/>
<line x1="345.74" y1="906.1" x2="345.74" y2="1638.5" stroke="#EBEBEB" stroke-width="1.1"/>
<line x1="414.22" y1="906.1" x2="414.22" y2="1638.5" stroke="#EBEBEB" stroke-width="1.1"/>
<line x1="482.7" y1="906.1" x2="482.7" y2="1638.5" stroke="#EBEBEB" stroke-width="1.1"/>
<rect x="128.3" y="1600.74" width="24" height="4.66" fill="#666666"/>
<rect x="196.78" y="1576.12" width="24" height="29.28" fill="#666666"/>
<rect x="265.26" y="1001.79" width="24" height="603.61" fill="#E6AB02"/>
<rect x="333.74" y="1164.17" width="24" height="441.23" fill="#E6AB02"/>
<rect x="402.22" y="1484.28" width="24" height="121.12" fill="#E6AB02"/>
<rect x="470.7" y="1520.22" width="24" height="85.18" fill="#E6AB02"/>
<line x1="208.78" y1="1575.6" x2="208.78" y2="1576.6" stroke="#111" stroke-width="1.2"/>
<line x1="200.78" y1="1575.6" x2="216.78" y2="1575.6" stroke="#111" stroke-width="1.2"/>
<line x1="200.78" y1="1576.6" x2="216.78" y2="1576.6" stroke="#111" stroke-width="1.2"/>
<line x1="277.26" y1="996.1" x2="277.26" y2="1006.3" stroke="#111" stroke-width="1.2"/>
<line x1="269.26" y1="996.1" x2="285.26" y2="996.1" stroke="#111" stroke-width="1.2"/>
<line x1="269.26" y1="1006.3" x2="285.26" y2="1006.3" stroke="#111" stroke-width="1.2"/>
<line x1="345.74" y1="1159.8" x2="345.74" y2="1167.6" stroke="#111" stroke-width="1.2"/>
<line x1="337.74" y1="1159.8" x2="353.74" y2="1159.8" stroke="#111" stroke-width="1.2"/>
<line x1="337.74" y1="1167.6" x2="353.74" y2="1167.6" stroke="#111" stroke-width="1.2"/>
<line x1="414.22" y1="1481" x2="414.22" y2="1486.4" stroke="#111" stroke-width="1.2"/>
<line x1="406.22" y1="1481" x2="422.22" y2="1481" stroke="#111" stroke-width="1.2"/>
<line x1="406.22" y1="1486.4" x2="422.22" y2="1486.4" stroke="#111" stroke-width="1.2"/>
<line x1="482.7" y1="1518.4" x2="482.7" y2="1521.4" stroke="#111" stroke-width="1.2"/>
<line x1="474.7" y1="1518.4" x2="490.7" y2="1518.4" stroke="#111" stroke-width="1.2"/>
<line x1="474.7" y1="1521.4" x2="490.7" y2="1521.4" stroke="#111" stroke-width="1.2"/>
<rect x="99.3" y="906.1" width="424.8" height="732.4" fill="none" stroke="#000" stroke-width="2.6"/>
<line x1="90.8" y1="1605.4" x2="99.3" y2="1605.4" stroke="#333333" stroke-width="2.5"/>
<text x="86" y="1614.95" text-anchor="end" font-size="24.7" fill="#000">0</text>
<line x1="90.8" y1="1472.3" x2="99.3" y2="1472.3" stroke="#333333" stroke-width="2.5"/>
<text x="86" y="1481.85" text-anchor="end" font-size="24.7" fill="#000">2</text>
<line x1="90.8" y1="1339.2" x2="99.3" y2="1339.2" stroke="#333333" stroke-width="2.5"/>
<text x="86" y="1348.75" text-anchor="end" font-size="24.7" fill="#000">4</text>
<line x1="90.8" y1="1206.1" x2="99.3" y2="1206.1" stroke="#333333" stroke-width="2.5"/>
<text x="86" y="1215.65" text-anchor="end" font-size="24.7" fill="#000">6</text>
<line x1="90.8" y1="1073" x2="99.3" y2="1073" stroke="#333333" stroke-width="2.5"/>
<text x="86" y="1082.55" text-anchor="end" font-size="24.7" fill="#000">8</text>
<line x1="90.8" y1="939.9" x2="99.3" y2="939.9" stroke="#333333" stroke-width="2.5"/>
<text x="86" y="949.45" text-anchor="end" font-size="24.7" fill="#000">10</text>
<line x1="140.3" y1="1638.5" x2="140.3" y2="1648" stroke="#333333" stroke-width="2.5"/>
<text transform="translate(145.1,1654.6) rotate(-90)" text-anchor="end" font-size="25" fill="#FF1A0A">Han_Q.T (11)</text>
<line x1="208.78" y1="1638.5" x2="208.78" y2="1648" stroke="#333333" stroke-width="2.5"/>
<text transform="translate(216.48,1654.6) rotate(-90)" text-anchor="end" font-size="25" fill="#000">Han_Q.X (12)</text>
<line x1="277.26" y1="1638.5" x2="277.26" y2="1648" stroke="#333333" stroke-width="2.5"/>
<text transform="translate(280.66,1654.6) rotate(-90)" text-anchor="end" font-size="25" fill="#000">Tibetan_Q.G (19)</text>
<line x1="345.74" y1="1638.5" x2="345.74" y2="1648" stroke="#333333" stroke-width="2.5"/>
<text transform="translate(353.84,1654.6) rotate(-90)" text-anchor="end" font-size="25" fill="#000">Tibetan_X.D (10)</text>
<line x1="414.22" y1="1638.5" x2="414.22" y2="1648" stroke="#333333" stroke-width="2.5"/>
<text transform="translate(422.62,1654.6) rotate(-90)" text-anchor="end" font-size="25" fill="#FF1A0A">Tibetan_Q.T (10)</text>
<line x1="482.7" y1="1638.5" x2="482.7" y2="1648" stroke="#333333" stroke-width="2.5"/>
<text transform="translate(487.7,1654.6) rotate(-90)" text-anchor="end" font-size="25" fill="#000">Tibetan_X.L (44)</text>
<text x="113.2" y="934" text-anchor="start" font-size="24.7" fill="#000">Unclassfied <tspan font-style="italic">Bfidobacterium</tspan></text>
<text x="286.7" y="966.6" text-anchor="middle" font-size="24.7" fill="#000">IV2</text>
<text x="-0.3" y="926" text-anchor="start" font-size="41" fill="#000">d</text>
<text transform="translate(39.8,1241.4) rotate(-90)" text-anchor="middle" font-size="24.7" fill="#000">Relative Abundance (%)</text>
<line x1="630.6" y1="1608" x2="1145" y2="1608" stroke="#EBEBEB" stroke-width="1.1"/>
<line x1="630.6" y1="1541.48" x2="1145" y2="1541.48" stroke="#EBEBEB" stroke-width="0.8"/>
<line x1="630.6" y1="1474.96" x2="1145" y2="1474.96" stroke="#EBEBEB" stroke-width="1.1"/>
<line x1="630.6" y1="1408.44" x2="1145" y2="1408.44" stroke="#EBEBEB" stroke-width="0.8"/>
<line x1="630.6" y1="1341.92" x2="1145" y2="1341.92" stroke="#EBEBEB" stroke-width="1.1"/>
<line x1="630.6" y1="1275.4" x2="1145" y2="1275.4" stroke="#EBEBEB" stroke-width="0.8"/>
<line x1="630.6" y1="1208.88" x2="1145" y2="1208.88" stroke="#EBEBEB" stroke-width="1.1"/>
<line x1="630.6" y1="1142.36" x2="1145" y2="1142.36" stroke="#EBEBEB" stroke-width="0.8"/>
<line x1="630.6" y1="1075.84" x2="1145" y2="1075.84" stroke="#EBEBEB" stroke-width="1.1"/>
<line x1="630.6" y1="1009.32" x2="1145" y2="1009.32" stroke="#EBEBEB" stroke-width="0.8"/>
<line x1="630.6" y1="942.8" x2="1145" y2="942.8" stroke="#EBEBEB" stroke-width="1.1"/>
<line x1="654" y1="909.3" x2="654" y2="1641.2" stroke="#EBEBEB" stroke-width="1.1"/>
<line x1="692.96" y1="909.3" x2="692.96" y2="1641.2" stroke="#EBEBEB" stroke-width="1.1"/>
<line x1="731.92" y1="909.3" x2="731.92" y2="1641.2" stroke="#EBEBEB" stroke-width="1.1"/>
<line x1="770.88" y1="909.3" x2="770.88" y2="1641.2" stroke="#EBEBEB" stroke-width="1.1"/>
<line x1="809.84" y1="909.3" x2="809.84" y2="1641.2" stroke="#EBEBEB" stroke-width="1.1"/>
<line x1="848.8" y1="909.3" x2="848.8" y2="1641.2" stroke="#EBEBEB" stroke-width="1.1"/>
<line x1="887.76" y1="909.3" x2="887.76" y2="1641.2" stroke="#EBEBEB" stroke-width="1.1"/>
<line x1="926.72" y1="909.3" x2="926.72" y2="1641.2" stroke="#EBEBEB" stroke-width="1.1"/>
<line x1="965.68" y1="909.3" x2="965.68" y2="1641.2" stroke="#EBEBEB" stroke-width="1.1"/>
<line x1="1004.64" y1="909.3" x2="1004.64" y2="1641.2" stroke="#EBEBEB" stroke-width="1.1"/>
<line x1="1043.6" y1="909.3" x2="1043.6" y2="1641.2" stroke="#EBEBEB" stroke-width="1.1"/>
<line x1="1082.56" y1="909.3" x2="1082.56" y2="1641.2" stroke="#EBEBEB" stroke-width="1.1"/>
<line x1="1121.52" y1="909.3" x2="1121.52" y2="1641.2" stroke="#EBEBEB" stroke-width="1.1"/>
<line x1="641.5" y1="1607.4" x2="666.5" y2="1607.4" stroke="#111" stroke-width="1.4"/>
<rect x="680.46" y="1601.3" width="25" height="6.7" fill="#666666"/>
<rect x="719.42" y="1603.5" width="25" height="4.5" fill="#666666"/>
<line x1="719.42" y1="1604.1" x2="744.42" y2="1604.1" stroke="#111" stroke-width="1.3"/>
<rect x="758.38" y="1604.4" width="25" height="3.6" fill="#D95F02"/>
<line x1="758.38" y1="1605" x2="783.38" y2="1605" stroke="#111" stroke-width="1.3"/>
<rect x="797.34" y="1593.1" width="25" height="14.9" fill="#E7298A"/>
<rect x="836.3" y="1602" width="25" height="3.6" fill="#66A61E"/>
<rect x="875.26" y="967.28" width="25" height="640.72" fill="#66A61E"/>
<line x1="914.22" y1="1607.4" x2="939.22" y2="1607.4" stroke="#111" stroke-width="1.4"/>
<line x1="953.18" y1="1607.4" x2="978.18" y2="1607.4" stroke="#111" stroke-width="1.4"/>
<rect x="992.14" y="1036.46" width="25" height="571.54" fill="#E6AB02"/>
<rect x="1031.1" y="1464.3" width="25" height="143.7" fill="#E6AB02"/>
<rect x="1070.06" y="1464.3" width="25" height="143.7" fill="#E6AB02"/>
<rect x="1109.02" y="1563.5" width="25" height="44.5" fill="#E6AB02"/>
<line x1="685.96" y1="1601" x2="699.96" y2="1601" stroke="#111" stroke-width="1.2"/>
<line x1="724.92" y1="1603.6" x2="738.92" y2="1603.6" stroke="#111" stroke-width="1.2"/>
<line x1="763.88" y1="1604.3" x2="777.88" y2="1604.3" stroke="#111" stroke-width="1.2"/>
<line x1="802.84" y1="1589.2" x2="816.84" y2="1589.2" stroke="#111" stroke-width="1.2"/>
<line x1="802.84" y1="1592.8" x2="816.84" y2="1592.8" stroke="#111" stroke-width="1.2"/>
<line x1="841.8" y1="1600.9" x2="855.8" y2="1600.9" stroke="#111" stroke-width="1.2"/>
<line x1="880.76" y1="953.5" x2="894.76" y2="953.5" stroke="#111" stroke-width="1.2"/>
<line x1="880.76" y1="979.4" x2="894.76" y2="979.4" stroke="#111" stroke-width="1.2"/>
<line x1="887.76" y1="953.5" x2="887.76" y2="979.4" stroke="#111" stroke-width="1.2"/>
<line x1="997.64" y1="1024.4" x2="1011.64" y2="1024.4" stroke="#111" stroke-width="1.2"/>
<line x1="997.64" y1="1047" x2="1011.64" y2="1047" stroke="#111" stroke-width="1.2"/>
<line x1="1004.64" y1="1024.4" x2="1004.64" y2="1047" stroke="#111" stroke-width="1.2"/>
<line x1="1036.6" y1="1462.4" x2="1050.6" y2="1462.4" stroke="#111" stroke-width="1.2"/>
<line x1="1036.6" y1="1466.2" x2="1050.6" y2="1466.2" stroke="#111" stroke-width="1.2"/>
<line x1="1075.56" y1="1461.1" x2="1089.56" y2="1461.1" stroke="#111" stroke-width="1.2"/>
<line x1="1075.56" y1="1467.1" x2="1089.56" y2="1467.1" stroke="#111" stroke-width="1.2"/>
<line x1="1082.56" y1="1461.1" x2="1082.56" y2="1467.1" stroke="#111" stroke-width="1.2"/>
<line x1="1114.52" y1="1562" x2="1128.52" y2="1562" stroke="#111" stroke-width="1.2"/>
<line x1="1114.52" y1="1565.1" x2="1128.52" y2="1565.1" stroke="#111" stroke-width="1.2"/>
<line x1="910.3" y1="909.3" x2="910.3" y2="1641.2" stroke="#5A5AFF" stroke-width="1.4" stroke-dasharray="10.4 10.7"/>
<rect x="630.6" y="909.3" width="514.4" height="731.9" fill="none" stroke="#000" stroke-width="2.6"/>
<line x1="622.1" y1="1608" x2="630.6" y2="1608" stroke="#333333" stroke-width="2.5"/>
<text transform="translate(612.8,1617.5) scale(1,1.12)" text-anchor="end" font-size="24.7" fill="#000">0.0</text>
<line x1="622.1" y1="1474.96" x2="630.6" y2="1474.96" stroke="#333333" stroke-width="2.5"/>
<text transform="translate(612.8,1484.46) scale(1,1.12)" text-anchor="end" font-size="24.7" fill="#000">0.5</text>
<line x1="622.1" y1="1341.92" x2="630.6" y2="1341.92" stroke="#333333" stroke-width="2.5"/>
<text transform="translate(612.8,1351.42) scale(1,1.12)" text-anchor="end" font-size="24.7" fill="#000">1.0</text>
<line x1="622.1" y1="1208.88" x2="630.6" y2="1208.88" stroke="#333333" stroke-width="2.5"/>
<text transform="translate(612.8,1218.38) scale(1,1.12)" text-anchor="end" font-size="24.7" fill="#000">1.5</text>
<line x1="622.1" y1="1075.84" x2="630.6" y2="1075.84" stroke="#333333" stroke-width="2.5"/>
<text transform="translate(612.8,1085.34) scale(1,1.12)" text-anchor="end" font-size="24.7" fill="#000">2.0</text>
<line x1="622.1" y1="942.8" x2="630.6" y2="942.8" stroke="#333333" stroke-width="2.5"/>
<text transform="translate(612.8,952.3) scale(1,1.12)" text-anchor="end" font-size="24.7" fill="#000">2.5</text>
<line x1="654" y1="1641.2" x2="654" y2="1650.7" stroke="#333333" stroke-width="2.5"/>
<text transform="translate(659.9,1659.7) rotate(-90)" text-anchor="end" font-size="25" fill="#FF1A0A">Han_X.C (10)</text>
<line x1="692.96" y1="1641.2" x2="692.96" y2="1650.7" stroke="#333333" stroke-width="2.5"/>
<text transform="translate(699.76,1659.7) rotate(-90)" text-anchor="end" font-size="25" fill="#FF1A0A">Han_X.S (11)</text>
<line x1="731.92" y1="1641.2" x2="731.92" y2="1650.7" stroke="#333333" stroke-width="2.5"/>
<text transform="translate(739.52,1659.7) rotate(-90)" text-anchor="end" font-size="25" fill="#000">Han_X.W (11)</text>
<line x1="770.88" y1="1641.2" x2="770.88" y2="1650.7" stroke="#333333" stroke-width="2.5"/>
<text transform="translate(779.38,1659.7) rotate(-90)" text-anchor="end" font-size="25" fill="#FF1A0A">Hui_X.C (12)</text>
<line x1="809.84" y1="1641.2" x2="809.84" y2="1650.7" stroke="#333333" stroke-width="2.5"/>
<text transform="translate(815.84,1659.7) rotate(-90)" text-anchor="end" font-size="25" fill="#000">Mongolian_X.W (11)</text>
<line x1="848.8" y1="1641.2" x2="848.8" y2="1650.7" stroke="#333333" stroke-width="2.5"/>
<text transform="translate(858,1659.7) rotate(-90)" text-anchor="end" font-size="25" fill="#FF1A0A">Uygur_X.S (10)</text>
<line x1="887.76" y1="1641.2" x2="887.76" y2="1650.7" stroke="#333333" stroke-width="2.5"/>
<text transform="translate(894.66,1659.7) rotate(-90)" text-anchor="end" font-size="25" fill="#000">Uygur_X.K (21)</text>
<line x1="926.72" y1="1641.2" x2="926.72" y2="1650.7" stroke="#333333" stroke-width="2.5"/>
<text transform="translate(932.52,1659.7) rotate(-90)" text-anchor="end" font-size="25" fill="#FF1A0A">Han_Q.T (11)</text>
<line x1="965.68" y1="1641.2" x2="965.68" y2="1650.7" stroke="#333333" stroke-width="2.5"/>
<text transform="translate(972.58,1659.7) rotate(-90)" text-anchor="end" font-size="25" fill="#000">Han_Q.X (12)</text>
<line x1="1004.64" y1="1641.2" x2="1004.64" y2="1650.7" stroke="#333333" stroke-width="2.5"/>
<text transform="translate(1012.04,1659.7) rotate(-90)" text-anchor="end" font-size="25" fill="#000">Tibetan_Q.G (19)</text>
<line x1="1043.6" y1="1641.2" x2="1043.6" y2="1650.7" stroke="#333333" stroke-width="2.5"/>
<text transform="translate(1050.5,1659.7) rotate(-90)" text-anchor="end" font-size="25" fill="#000">Tibetan_X.D (10)</text>
<line x1="1082.56" y1="1641.2" x2="1082.56" y2="1650.7" stroke="#333333" stroke-width="2.5"/>
<text transform="translate(1095.36,1659.7) rotate(-90)" text-anchor="end" font-size="25" fill="#FF1A0A">Tibetan_Q.T (10)</text>
<line x1="1121.52" y1="1641.2" x2="1121.52" y2="1650.7" stroke="#333333" stroke-width="2.5"/>
<text transform="translate(1131.92,1659.7) rotate(-90)" text-anchor="end" font-size="25" fill="#000">Tibetan_X.L (44)</text>
<text x="645.2" y="938.9" text-anchor="start" font-size="24.7" fill="#000"><tspan font-style="italic">B. angulatum</tspan></text>
<text x="777.9" y="966.8" text-anchor="start" font-size="24.7" fill="#000">IV1</text>
<text x="1003.8" y="966.8" text-anchor="start" font-size="24.7" fill="#000">IV2</text>
<text x="557.9" y="931.5" text-anchor="start" font-size="41" fill="#000">e</text>
</svg>
</body></html>
